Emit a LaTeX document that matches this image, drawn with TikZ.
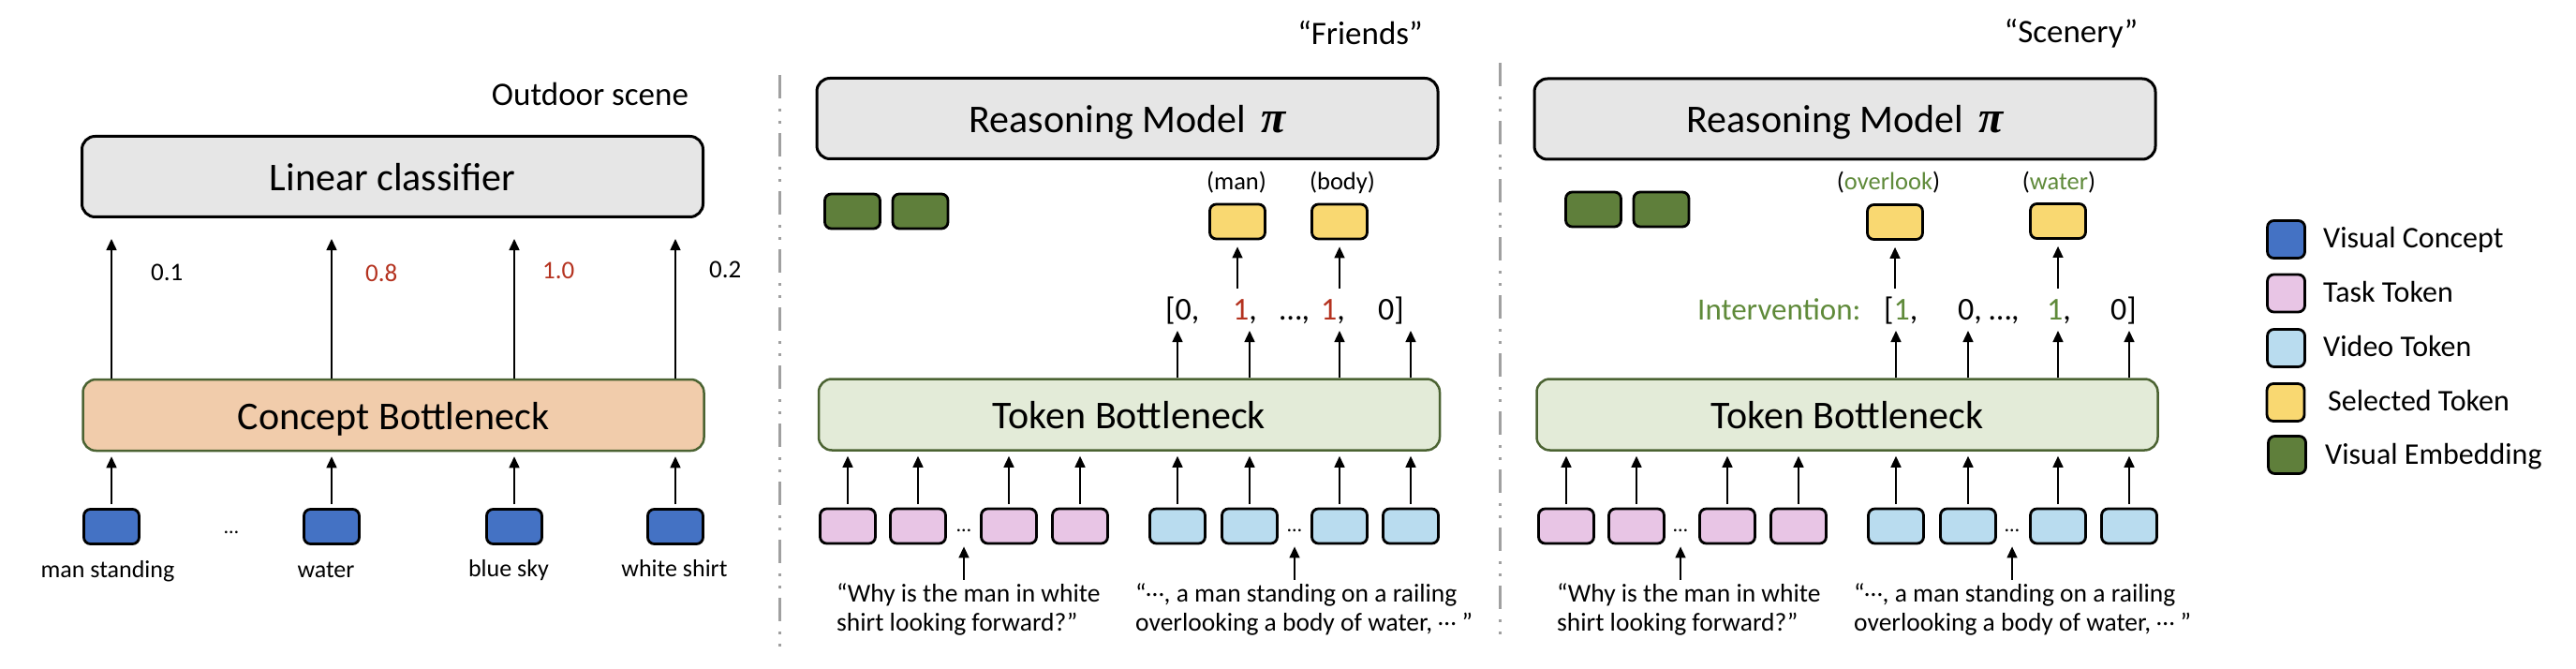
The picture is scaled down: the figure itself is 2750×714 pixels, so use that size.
\documentclass[tikz,border=0pt]{standalone}
\usepackage{fontspec}
\setmainfont{Carlito}
\newfontfamily\pifont{Liberation Serif}
\usetikzlibrary{arrows.meta}
\definecolor{boxgray}{HTML}{E6E6E6}
\definecolor{peach}{HTML}{F1CCAB}
\definecolor{lgreen}{HTML}{E3EBD8}
\definecolor{bnborder}{HTML}{4B6332}
\definecolor{vcblue}{HTML}{4472C4}
\definecolor{tpink}{HTML}{E8C5E5}
\definecolor{vblue}{HTML}{B9DCEF}
\definecolor{syellow}{HTML}{F9D871}
\definecolor{egreen}{HTML}{5F7F3B}
\definecolor{cred}{HTML}{B4321F}
\definecolor{igreen}{HTML}{5F8A3A}
\definecolor{sepgray}{HTML}{A0A0A0}
\begin{document}
\begin{tikzpicture}[x=1pt,y=-1pt,
  bigbox/.style={draw=black, line width=3pt, fill=boxgray, rounded corners=14pt,
    minimum width=663pt, minimum height=86pt, inner sep=0pt,
    font=\fontsize{42}{50}\selectfont, text height=31pt, text depth=1pt},
  bnbox/.style={bigbox, draw=bnborder, line width=2.5pt, minimum height=76pt},
  arr/.style={-{Triangle[length=12pt,width=11pt]}, line width=1.5pt},
  token/.style={draw=black, line width=2.8pt, rounded corners=7pt,
    minimum width=59pt, minimum height=37pt, inner sep=0pt},
  legsq/.style={token, minimum width=40pt, minimum height=40pt},
  lbl/.style={font=\fontsize{26}{30}\selectfont, inner sep=0pt, anchor=base},
  num/.style={font=\fontsize{27}{30}\selectfont, inner sep=0pt, anchor=base west},
  ttl/.style={font=\fontsize{35}{40}\selectfont, inner sep=0pt, anchor=base},
  sel/.style={font=\fontsize{26.5}{30}\selectfont, inner sep=0pt, anchor=base},
  vec/.style={font=\fontsize{34}{40}\selectfont, inner sep=0pt, anchor=base west},
  qt/.style={font=\fontsize{27.5}{33}\selectfont, inner sep=0pt, anchor=base west},
  dts/.style={font=\fontsize{22}{26}\selectfont, inner sep=0pt, anchor=base},
  leg/.style={font=\fontsize{32}{36}\selectfont, inner sep=0pt, anchor=base west},
  sep/.style={draw=sepgray, line width=3pt,
    dash pattern=on 25pt off 11pt on 3pt off 10pt on 3pt off 10pt}
]
\useasboundingbox (0,0) rectangle (2750,714);

% ---------------- left panel ----------------
\node[ttl] (outdoor) at (630,113) {Outdoor scene};
\node[bigbox] (lc) at (419,188.5) {Linear classifier};
\node[bnbox, fill=peach] (cb) at (420,443) {Concept Bottleneck};
\node[token, fill=vcblue] (c1) at (119,562) {};
\node[token, fill=vcblue] (c2) at (354,562) {};
\node[token, fill=vcblue] (c3) at (549,562) {};
\node[token, fill=vcblue] (c4) at (721,562) {};
\node[dts] (cdots) at (247,569) {…};
\node[lbl] (l1) at (115,616) {man standing};
\node[lbl] (l2) at (348,616) {water};
\node[lbl] (l3) at (543,615) {blue sky};
\node[lbl] (l4) at (720,615) {white shirt};
\foreach \i in {1,...,4}{
  \draw[arr, shorten <=4pt, shorten >=5pt] (c\i.north) -- (c\i |- cb.south);
  \draw[arr, shorten >=22pt] (c\i |- cb.north) -- (c\i |- lc.south);
}
\node[num] (n1) at (161,299) {0.1};
\node[num, text=cred] (n2) at (390,300) {0.8};
\node[num, text=cred] (n3) at (579,298) {1.0};
\node[num] (n4) at (757,296) {0.2};

% ---------------- separators ----------------
\draw[sep] (832,80) -- (832,697);
\draw[sep] (1601,67) -- (1601,683);

% ---------------- middle panel ----------------
\node[ttl] (friends) at (1452,48) {“Friends”};
\node[bigbox] (rm1) at (1203.5,126.5) {Reasoning Model\hspace{16pt}{\pifont\bfseries\itshape\fontsize{48}{50}\selectfont π}};
\node[token, fill=egreen] (ea1) at (910,225.5) {};
\node[token, fill=egreen] (ea2) at (982.5,225.5) {};
\node[token, fill=syellow] (ya1) at (1321,236.5) {};
\node[token, fill=syellow] (ya2) at (1430,236.5) {};
\node[sel] (sa1) at (1320,203) {(man)};
\node[sel] (sa2) at (1433,203) {(body)};
\node[vec] (va1) at (1244,341) {[0,};
\node[vec] (va2) at (1316,341) {\textcolor{cred}{1},};
\node[vec] (va3) at (1366,341) {…,};
\node[vec] (va4) at (1410,341) {\textcolor{cred}{1},};
\node[vec] (va5) at (1471,341) {0]};
\coordinate (vtopA) at (0,308);
\coordinate (vbotA) at (0,353);
\node[bnbox, fill=lgreen] (tb1) at (1205.5,442.5) {Token Bottleneck};
\node[token, fill=tpink] (pa1) at (905,561.5) {};
\node[token, fill=tpink] (pa2) at (980,561.5) {};
\node[token, fill=tpink] (pa3) at (1077,561.5) {};
\node[token, fill=tpink] (pa4) at (1153,561.5) {};
\node[token, fill=vblue] (ba1) at (1257,561.5) {};
\node[token, fill=vblue] (ba2) at (1334,561.5) {};
\node[token, fill=vblue] (ba3) at (1430,561.5) {};
\node[token, fill=vblue] (ba4) at (1506,561.5) {};
\node[dts] (pda) at (1029,567) {…};
\node[dts] (bda) at (1382,567) {…};
\node[qt] (qa1) at (893,642) {“Why is the man in white};
\node[qt] (qa2) at (893,673) {shirt looking forward?”};
\node[qt] (qa3) at (1212,642) {“\raisebox{0.2em}{…}, a man standing on a railing};
\node[qt] (qa4) at (1212,673) {overlooking a body of water, \raisebox{0.2em}{…} ”};
\foreach \n in {pa1,pa2,pa3,pa4,ba1,ba2,ba3,ba4}
  \draw[arr, shorten <=4pt, shorten >=5pt] (\n.north) -- (\n |- tb1.south);
\foreach \n in {ba1,ba2,ba3,ba4}
  \draw[arr] (\n |- tb1.north) -- (\n |- vbotA);
\foreach \n in {ya1,ya2}
  \draw[arr, shorten >=7pt] (\n |- vtopA) -- (\n.south);
\draw[arr, shorten <=3pt, shorten >=2pt] (pda |- qa1.north) -- (pda |- pa2.south);
\draw[arr, shorten <=3pt, shorten >=2pt] (bda |- qa3.north) -- (bda |- ba2.south);

% ---------------- right panel ----------------
\node[ttl] (scenery) at (2211,46) {“Scenery”};
\node[bigbox] (rm2) at (1969.5,127) {Reasoning Model\hspace{16pt}{\pifont\bfseries\itshape\fontsize{48}{50}\selectfont π}};
\node[token, fill=egreen] (eb1) at (1701,223.5) {};
\node[token, fill=egreen] (eb2) at (1773.5,223.5) {};
\node[token, fill=syellow] (yb1) at (2023,237) {};
\node[token, fill=syellow] (yb2) at (2197,236) {};
\node[sel] (sb1) at (2016,203) {(\textcolor{igreen}{overlook})};
\node[sel] (sb2) at (2198,203) {(\textcolor{igreen}{water})};
\node[vec, font=\fontsize{33}{40}\selectfont] (iv) at (1812,341) {\textcolor{igreen}{Intervention:}};
\node[vec] (vb1) at (2011,341) {[\textcolor{igreen}{1},};
\node[vec] (vb2) at (2090,341) {0, …,};
\node[vec] (vb3) at (2185,341) {\textcolor{igreen}{1},};
\node[vec] (vb4) at (2253,341) {0]};
\coordinate (vtopB) at (0,308);
\coordinate (vbotB) at (0,353);
\node[bnbox, fill=lgreen] (tb2) at (1972,442.5) {Token Bottleneck};
\node[token, fill=tpink] (pb1) at (1672,561.5) {};
\node[token, fill=tpink] (pb2) at (1747,561.5) {};
\node[token, fill=tpink] (pb3) at (1844,561.5) {};
\node[token, fill=tpink] (pb4) at (1920,561.5) {};
\node[token, fill=vblue] (bb1) at (2024,561.5) {};
\node[token, fill=vblue] (bb2) at (2101,561.5) {};
\node[token, fill=vblue] (bb3) at (2197,561.5) {};
\node[token, fill=vblue] (bb4) at (2273,561.5) {};
\node[dts] (pdb) at (1794,567) {…};
\node[dts] (bdb) at (2148,567) {…};
\node[qt] (qb1) at (1662,642) {“Why is the man in white};
\node[qt] (qb2) at (1662,673) {shirt looking forward?”};
\node[qt] (qb3) at (1979,642) {“\raisebox{0.2em}{…}, a man standing on a railing};
\node[qt] (qb4) at (1979,673) {overlooking a body of water, \raisebox{0.2em}{…} ”};
\foreach \n in {pb1,pb2,pb3,pb4,bb1,bb2,bb3,bb4}
  \draw[arr, shorten <=4pt, shorten >=5pt] (\n.north) -- (\n |- tb2.south);
\foreach \n in {bb1,bb2,bb3,bb4}
  \draw[arr] (\n |- tb2.north) -- (\n |- vbotB);
\foreach \n in {yb1,yb2}
  \draw[arr, shorten >=7pt] (\n |- vtopB) -- (\n.south);
\draw[arr, shorten <=3pt, shorten >=2pt] (pdb |- qb1.north) -- (pdb |- pb2.south);
\draw[arr, shorten <=3pt, shorten >=2pt] (bdb |- qb3.north) -- (bdb |- bb2.south);

% ---------------- legend ----------------
\node[legsq, fill=vcblue] (g1) at (2440.5,255.5) {};
\node[legsq, fill=tpink] (g2) at (2440.5,313) {};
\node[legsq, fill=vblue] (g3) at (2440.5,371.5) {};
\node[legsq, fill=syellow] (g4) at (2440,429.5) {};
\node[legsq, fill=egreen] (g5) at (2441.5,485.5) {};
\node[leg] (t1) at (2480,265) {Visual Concept};
\node[leg] (t2) at (2480,322) {Task Token};
\node[leg] (t3) at (2480,380) {Video Token};
\node[leg] (t4) at (2485,438) {Selected Token};
\node[leg] (t5) at (2482,495) {Visual Embedding};
\end{tikzpicture}
\end{document}
